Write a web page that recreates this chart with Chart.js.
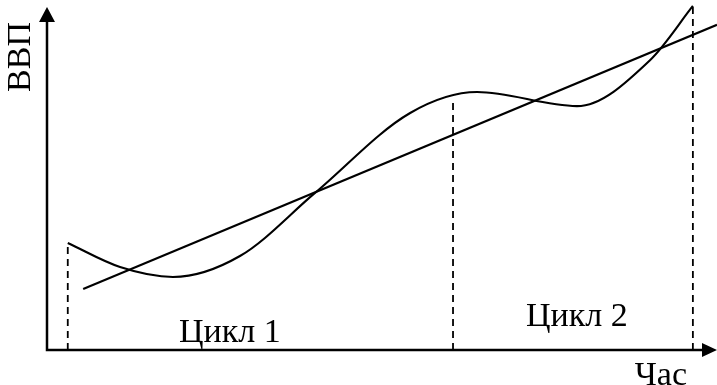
<!DOCTYPE html>
<html><head><meta charset="utf-8">
<script src="https://cdn.jsdelivr.net/npm/chart.js@4"></script>
<style>html,body{margin:0;padding:0;background:#fff}#wrap{width:717px;height:385px}</style>
</head><body><div id="wrap"><canvas id="c"></canvas></div>
<script>
// Wavy GDP curve (time, GDP) in arbitrary units
const cycleX = [3.1, 10.9, 18.8, 28.8, 40.0, 54.2, 64.2, 79.1, 90.0, 96.4];
const cycleY = [31.2, 24.2, 21.3, 27.4, 45.8, 69.1, 75.2, 71.1, 84.5, 100.3];
// Trend line
const trendX = [5.4, 100];
const trendY = [17.8, 94.8];
// Cycle boundaries (time) and the curve's height there
const boundX = [3.1, 60.6, 96.4];
const boundY = [31.2, 72.9, 100.3];
// Text labels
const cycleLabels = ["Цикл 1", "Цикл 2"];
const cycleLabelX = [19.7, 71.5];
const cycleLabelY = [2.3, 7.0];
const yTitle = "ВВП";
const xTitle = "Час";

const datasets = [];
datasets.push({data: cycleX.map((x,i)=>({x, y: cycleY[i]})), borderColor:'#000', borderWidth:2.1, pointRadius:0, cubicInterpolationMode:'monotone', fill:false, clip:false});
datasets.push({data: trendX.map((x,i)=>({x, y: trendY[i]})), borderColor:'#000', borderWidth:2.1, pointRadius:0, tension:0, fill:false, clip:false});
boundX.forEach((x,i)=>{
  datasets.push({data:[{x, y:0},{x, y:boundY[i]}], borderColor:'#000', borderWidth:1.8, borderDash:[7,5], pointRadius:0, fill:false, clip:false});
});

const FONT = '34px "Liberation Serif", "Times New Roman", serif';
const decor = {
  id:'decor',
  afterDraw(chart){
    const {ctx, chartArea:a, scales:{x, y}} = chart;
    ctx.save();
    ctx.strokeStyle='#000'; ctx.fillStyle='#000'; ctx.lineWidth=2.5;
    // axes
    ctx.beginPath();
    ctx.moveTo(a.left, a.top+12); ctx.lineTo(a.left, a.bottom); ctx.lineTo(a.right-12, a.bottom);
    ctx.stroke();
    // y arrow
    ctx.beginPath();
    ctx.moveTo(a.left, a.top); ctx.lineTo(a.left-8, a.top+15); ctx.lineTo(a.left+8, a.top+15); ctx.closePath(); ctx.fill();
    // x arrow
    ctx.beginPath();
    ctx.moveTo(a.right, a.bottom); ctx.lineTo(a.right-15, a.bottom-7); ctx.lineTo(a.right-15, a.bottom+7); ctx.closePath(); ctx.fill();
    // texts
    ctx.font = FONT; ctx.textBaseline='alphabetic'; ctx.textAlign='left';
    cycleLabels.forEach((t,i)=>{
      ctx.fillText(t, x.getPixelForValue(cycleLabelX[i]), y.getPixelForValue(cycleLabelY[i]));
    });
    ctx.textAlign='right';
    ctx.fillText(xTitle, a.right-30, a.bottom+35);
    ctx.save();
    ctx.translate(a.left-17, a.top+50);
    ctx.rotate(-Math.PI/2);
    ctx.textAlign='center';
    ctx.fillText(yTitle, 0, 0);
    ctx.restore();
    ctx.restore();
  }
};

new Chart(document.getElementById('c'), {
  type:'line',
  data:{datasets},
  options:{
    responsive:true, maintainAspectRatio:false, animation:false,
    layout:{padding:{left:47, right:0, top:7, bottom:35}},
    plugins:{legend:{display:false}, tooltip:{enabled:false}},
    scales:{
      x:{type:'linear', min:0, max:100, display:false},
      y:{type:'linear', min:0, max:100, display:false}
    }
  },
  plugins:[decor]
});
</script></body></html>
